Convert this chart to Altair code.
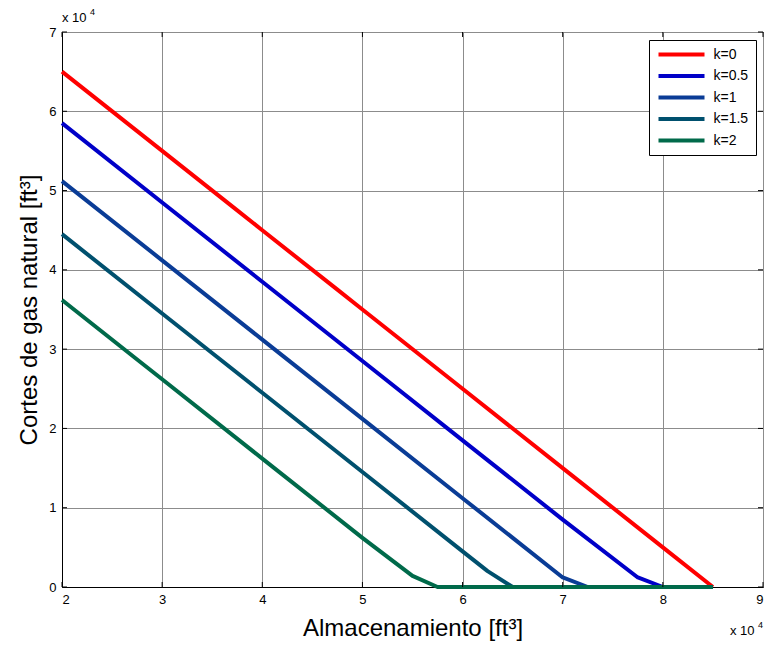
import altair as alt
import pandas as pd

# values in units of 10^4 ft^3
series_names = ["k=0", "k=0.5", "k=1", "k=1.5", "k=2"]
colors = ["#FF0000", "#0000C8", "#0A3C96", "#00506E", "#006A4A"]

x_k0 = [2, 3, 3.75, 4, 4.75, 5, 6, 7, 8, 8.5]
y_k0 = [6.5, 5.5, 4.75, 4.5, 3.75, 3.5, 2.5, 1.5, 0.5, 0]
x_k05 = [2, 3, 4, 5, 6, 7, 7.75, 8, 8.5]
y_k05 = [5.85, 4.85, 3.85, 2.85, 1.85, 0.85, 0.12, 0, 0]
x_k1 = [2, 3, 4, 5, 6, 7, 7.25, 8.5]
y_k1 = [5.12, 4.12, 3.12, 2.12, 1.12, 0.12, 0, 0]
x_k15 = [2, 3, 4, 5, 6, 6.25, 6.5, 8.5]
y_k15 = [4.45, 3.45, 2.45, 1.45, 0.45, 0.2, 0, 0]
x_k2 = [2, 2.75, 3, 4, 5, 5.5, 5.75, 8.5]
y_k2 = [3.62, 2.87, 2.62, 1.62, 0.62, 0.14, 0, 0]

x_ticks = [2, 3, 4, 5, 6, 7, 8, 9]
y_ticks = [0, 1, 2, 3, 4, 5, 6, 7]

rows = []
for name, xs, ys in zip(series_names,
                        [x_k0, x_k05, x_k1, x_k15, x_k2],
                        [y_k0, y_k05, y_k1, y_k15, y_k2]):
    for i, (a, b) in enumerate(zip(xs, ys)):
        rows.append({"serie": name, "x": a, "y": b, "ord": i})
df = pd.DataFrame(rows)

W, H = 701, 555
FONT = "Liberation Sans"

xs = alt.Scale(domain=[2, 9], nice=False, zero=False)
ys = alt.Scale(domain=[0, 7], nice=False, zero=False)

lines = alt.Chart(df).mark_line(strokeWidth=4, strokeJoin="round").encode(
    x=alt.X("x:Q", scale=xs,
            axis=alt.Axis(values=x_ticks, format="d", title="Almacenamiento [ft³]",
                          ticks=False, labelPadding=6, titlePadding=10,
                          grid=True)),
    y=alt.Y("y:Q", scale=ys,
            axis=alt.Axis(values=y_ticks, format="d", title="Cortes de gas natural [ft³]",
                          ticks=False, labelPadding=6, titlePadding=7,
                          grid=True)),
    color=alt.Color("serie:N", scale=alt.Scale(domain=series_names, range=colors),
                    legend=alt.Legend(title=None, orient="none", legendX=587, legendY=8,
                                      symbolType="stroke", symbolStrokeWidth=4,
                                      symbolSize=2116, labelFontSize=14,
                                      labelFont=FONT, labelColor="black",
                                      strokeColor="black", fillColor="white",
                                      padding=7.5, rowPadding=7.5, labelOffset=7,
                                      clipHeight=14, cornerRadius=0)),
    order="ord:Q",
)

xt = pd.DataFrame({"t": x_ticks})
yt = pd.DataFrame({"t": y_ticks})
tick_bottom = alt.Chart(xt).mark_rule(color="black", strokeWidth=1).encode(
    x=alt.X("t:Q", scale=xs), y=alt.value(H), y2=alt.value(H - 5))
tick_top = alt.Chart(xt).mark_rule(color="black", strokeWidth=1).encode(
    x=alt.X("t:Q", scale=xs), y=alt.value(0), y2=alt.value(5))
tick_left = alt.Chart(yt).mark_rule(color="black", strokeWidth=1).encode(
    y=alt.Y("t:Q", scale=ys), x=alt.value(0), x2=alt.value(5))
tick_right = alt.Chart(yt).mark_rule(color="black", strokeWidth=1).encode(
    y=alt.Y("t:Q", scale=ys), x=alt.value(W), x2=alt.value(W - 5))

ann = pd.DataFrame({"a": [0]})
top_x = alt.Chart(ann).mark_text(font=FONT, fontSize=13, align="left", baseline="alphabetic",
                                 color="black").encode(
    x=alt.value(0), y=alt.value(-10), text=alt.value("x 10"))
top_e = alt.Chart(ann).mark_text(font=FONT, fontSize=9, align="left", baseline="alphabetic",
                                 color="black").encode(
    x=alt.value(28), y=alt.value(-17), text=alt.value("4"))
bot_x = alt.Chart(ann).mark_text(font=FONT, fontSize=13, align="left", baseline="alphabetic",
                                 color="black").encode(
    x=alt.value(W - 33), y=alt.value(H + 48), text=alt.value("x 10"))
bot_e = alt.Chart(ann).mark_text(font=FONT, fontSize=9, align="left", baseline="alphabetic",
                                 color="black").encode(
    x=alt.value(W - 5), y=alt.value(H + 41), text=alt.value("4"))

chart = alt.layer(lines, tick_bottom, tick_top, tick_left, tick_right,
                  top_x, top_e, bot_x, bot_e).properties(
    width=W, height=H,
    autosize=alt.AutoSizeParams(type="none"),
    padding={"left": 62, "top": 32, "right": 4, "bottom": 60},
    background="white",
).configure_view(stroke="black", strokeWidth=1).configure_axis(
    domainColor="black", domainWidth=1,
    gridColor="#8c8c8c", gridWidth=1, gridOpacity=1,
    labelFont=FONT, labelFontSize=13, labelColor="black",
    titleFont=FONT, titleFontSize=24, titleColor="black", titleFontWeight="normal",
)

chart.save("out.html", embed_options={"renderer": "svg", "actions": False})
